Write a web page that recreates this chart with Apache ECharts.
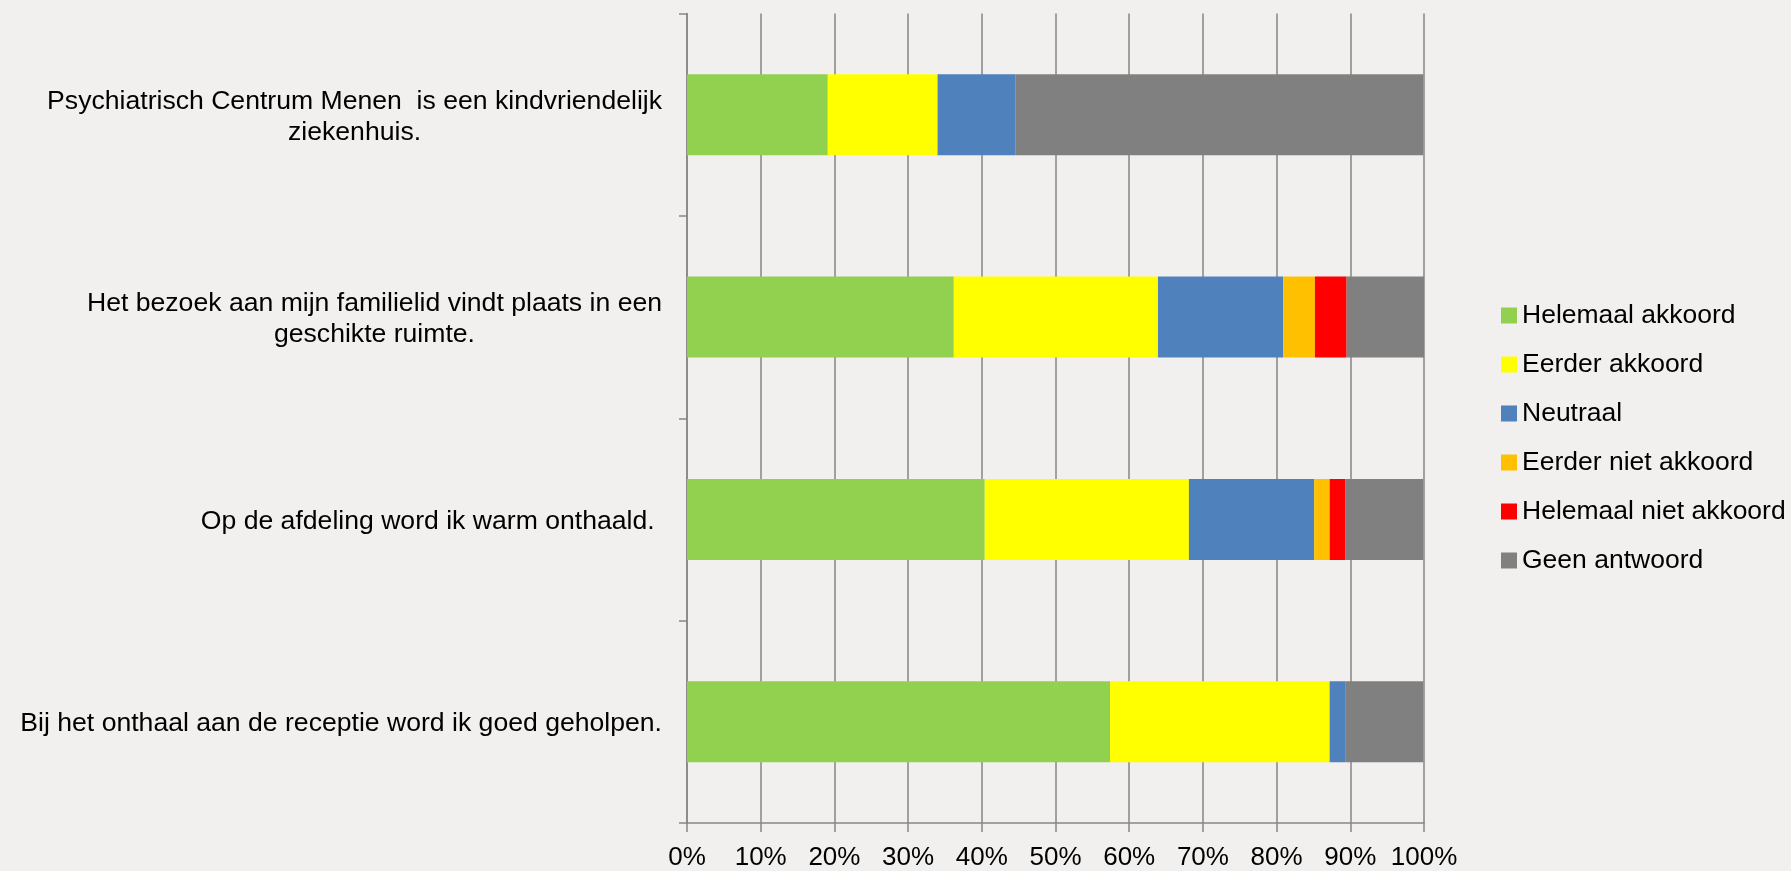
<!DOCTYPE html>
<html>
<head>
<meta charset="utf-8">
<script src="https://cdn.jsdelivr.net/npm/echarts@6/dist/echarts.min.js"></script>
<style>
html,body{margin:0;padding:0;background:#F1F0EE;}
#chart{width:1791px;height:871px;}
</style>
</head>
<body>
<div id="chart"></div>
<script>
const categories = [
  "Psychiatrisch Centrum Menen  is een kindvriendelijk\nziekenhuis.",
  "Het bezoek aan mijn familielid vindt plaats in een\ngeschikte ruimte.",
  "Op de afdeling word ik warm onthaald. ",
  "Bij het onthaal aan de receptie word ik goed geholpen."
];
const seriesNames = ["Helemaal akkoord","Eerder akkoord","Neutraal","Eerder niet akkoord","Helemaal niet akkoord","Geen antwoord"];
const helemaalAkkoord    = [19.1, 36.2, 40.4, 57.4];
const eerderAkkoord      = [14.9, 27.7, 27.7, 29.8];
const neutraal           = [10.6, 17.0, 17.0, 2.1];
const eerderNietAkkoord  = [0, 4.3, 2.1, 0];
const helemaalNiet       = [0, 4.3, 2.1, 0];
const geenAntwoord       = [55.3, 10.6, 10.6, 10.6];
const xTicks = [0,10,20,30,40,50,60,70,80,90,100];
const colors = ["#92D050","#FFFF00","#4F81BD","#FFC000","#FF0000","#808080"];

const FONT = "Liberation Sans";
const seriesData = [helemaalAkkoord, eerderAkkoord, neutraal, eerderNietAkkoord, helemaalNiet, geenAntwoord];

const chart = echarts.init(document.getElementById('chart'), null, {renderer:'canvas'});
chart.setOption({
  backgroundColor: '#F1F0EE',
  animation: false,
  textStyle: {fontFamily: FONT},
  grid: {left: 687, right: 367, top: 13.5, bottom: 47.5, containLabel: false},
  legend: {
    orient: 'vertical',
    left: 1501,
    top: 302,
    padding: 0,
    itemWidth: 16,
    itemHeight: 16,
    itemGap: 22,
    icon: 'rect',
    textStyle: {fontFamily: FONT, fontSize: 26.5, color: '#000'},
    data: seriesNames
  },
  xAxis: {
    type: 'value',
    min: xTicks[0],
    max: xTicks[xTicks.length-1],
    interval: 10,
    axisLine: {show: true, lineStyle: {color: '#868686', width: 1.5}},
    axisTick: {show: true, length: 9, lineStyle: {color: '#868686', width: 1.5}},
    splitLine: {show: true, lineStyle: {color: '#868686', width: 1.5}},
    axisLabel: {formatter: '{value}%', fontFamily: FONT, fontSize: 26, color: '#000', margin: 22}
  },
  yAxis: {
    type: 'category',
    inverse: true,
    data: categories,
    axisLine: {show: true, lineStyle: {color: '#868686', width: 1.5}},
    axisTick: {show: true, length: 8, lineStyle: {color: '#868686', width: 1.5}},
    splitLine: {show: false},
    axisLabel: {
      margin: 25,
      align: 'right',
      padding: [4, 0, 0, 0],
      formatter: function (v) { return '{c|' + v + '}'; },
      rich: {c: {align: 'center', fontFamily: FONT, fontSize: 26.6, lineHeight: 31, color: '#000'}}
    }
  },
  series: seriesNames.map((name, i) => ({
    name: name,
    type: 'bar',
    stack: 'total',
    barCategoryGap: '60%',
    itemStyle: {color: colors[i]},
    data: seriesData[i]
  }))
});
</script>
</body>
</html>
